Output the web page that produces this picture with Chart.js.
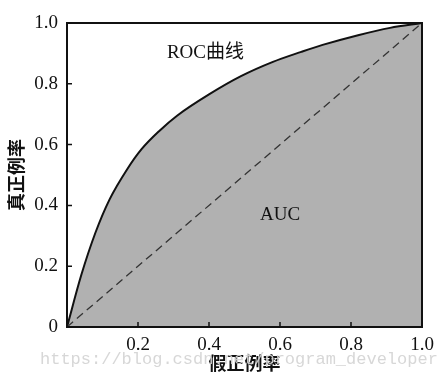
<!DOCTYPE html>
<html>
<head>
<meta charset="utf-8">
<script src="https://cdn.jsdelivr.net/npm/chart.js@4/dist/chart.umd.min.js"></script>
<style>
  html, body { margin: 0; padding: 0; background: #fff; }
  canvas { display: block; }
</style>
</head>
<body>
<canvas id="roc" width="441" height="380"></canvas>
<script>
// ── data ─────────────────────────────────────────────────
const FPR = [0, 0.04, 0.08, 0.12, 0.17, 0.21, 0.26, 0.31, 0.4, 0.49, 0.58, 0.66, 0.72, 0.82, 0.91, 1];
const TPR = [0, 0.17, 0.31, 0.42, 0.52, 0.585, 0.645, 0.695, 0.765, 0.825, 0.872, 0.905, 0.928, 0.96, 0.984, 1];
const DIAG_X = [0, 1];
const DIAG_Y = [0, 1];
const TICK_VALUES = [0, 0.2, 0.4, 0.6, 0.8, 1.0];
const X_TICK_LABELS = ['', '0.2', '0.4', '0.6', '0.8', '1.0'];
const Y_TICK_LABELS = ['0', '0.2', '0.4', '0.6', '0.8', '1.0'];
const NOTES = [
  { text: 'ROC曲线', x: 0.39, y: 0.9 },
  { text: 'AUC', x: 0.6, y: 0.37 },
];

const SERIF = "'Liberation Serif', 'Times New Roman', serif";
const CJK = "'Noto Sans CJK SC', sans-serif";

function toPoints(xs, ys) {
  return xs.map((x, i) => ({ x: x, y: ys[i] }));
}

// frame, inward ticks, labels in the plot, watermark
const decor = {
  id: 'decor',
  afterDatasetsDraw(chart) {
    const { ctx, chartArea: a, scales } = chart;
    ctx.save();
    ctx.strokeStyle = '#111';
    ctx.lineWidth = 2;
    ctx.strokeRect(a.left, a.top, a.right - a.left, a.bottom - a.top);

    ctx.lineWidth = 1.5;
    TICK_VALUES.forEach((v) => {
      const px = scales.x.getPixelForValue(v);
      const py = scales.y.getPixelForValue(v);
      ctx.beginPath();
      ctx.moveTo(px, a.bottom);
      ctx.lineTo(px, a.bottom - 5);
      ctx.moveTo(a.left, py);
      ctx.lineTo(a.left + 5, py);
      ctx.stroke();
    });

    ctx.fillStyle = '#111';
    ctx.font = '19px ' + SERIF + ', ' + CJK;
    ctx.textAlign = 'center';
    ctx.textBaseline = 'middle';
    NOTES.forEach((n) => {
      ctx.fillText(n.text, scales.x.getPixelForValue(n.x), scales.y.getPixelForValue(n.y));
    });
    ctx.restore();
  },
  afterDraw(chart) {
    const ctx = chart.ctx;
    ctx.save();
    ctx.fillStyle = 'rgba(212,212,212,0.92)';
    ctx.font = "17px 'Liberation Mono', monospace";
    ctx.textAlign = 'left';
    ctx.textBaseline = 'middle';
    ctx.fillText('https://blog.csdn.net/program_developer', 40, 359);
    ctx.restore();
  },
};

new Chart(document.getElementById('roc'), {
  type: 'scatter',
  data: {
    datasets: [
      {
        data: toPoints(FPR, TPR),
        order: 2,
        showLine: true,
        borderColor: '#111',
        borderWidth: 2,
        backgroundColor: '#b1b1b1',
        fill: 'origin',
        pointRadius: 0,
        cubicInterpolationMode: 'monotone',
      },
      {
        data: toPoints(DIAG_X, DIAG_Y),
        order: 1,
        showLine: true,
        borderColor: '#333',
        borderWidth: 1.3,
        borderDash: [8, 5],
        pointRadius: 0,
        fill: false,
      },
    ],
  },
  options: {
    responsive: false,
    animation: false,
    events: [],
    layout: { padding: { top: 23, right: 19, left: 0, bottom: 0 } },
    plugins: { legend: { display: false }, tooltip: { enabled: false } },
    scales: {
      x: {
        type: 'linear',
        min: 0,
        max: 1,
        afterBuildTicks: (s) => { s.ticks = TICK_VALUES.map((v) => ({ value: v })); },
        afterFit: (s) => { s.height = 53; },
        grid: { display: false, drawTicks: false },
        border: { display: false },
        ticks: {
          padding: 7,
          color: '#111',
          font: { family: SERIF, size: 19 },
          callback: (v, i) => X_TICK_LABELS[i],
        },
        title: {
          display: true,
          text: '假正例率',
          color: '#111',
          font: { family: CJK, size: 18, weight: 'bold' },
          padding: { top: 0, bottom: 6 },
        },
      },
      y: {
        type: 'linear',
        min: 0,
        max: 1,
        afterBuildTicks: (s) => { s.ticks = TICK_VALUES.map((v) => ({ value: v })); },
        afterFit: (s) => { s.width = 67; },
        grid: { display: false, drawTicks: false },
        border: { display: false },
        ticks: {
          padding: 9,
          color: '#111',
          font: { family: SERIF, size: 19 },
          callback: (v, i) => Y_TICK_LABELS[i],
        },
        title: {
          display: true,
          text: '真正例率',
          color: '#111',
          font: { family: CJK, size: 18, weight: 'bold' },
          padding: { top: 5, bottom: 0 },
        },
      },
    },
  },
  plugins: [decor],
});
</script>
</body>
</html>
